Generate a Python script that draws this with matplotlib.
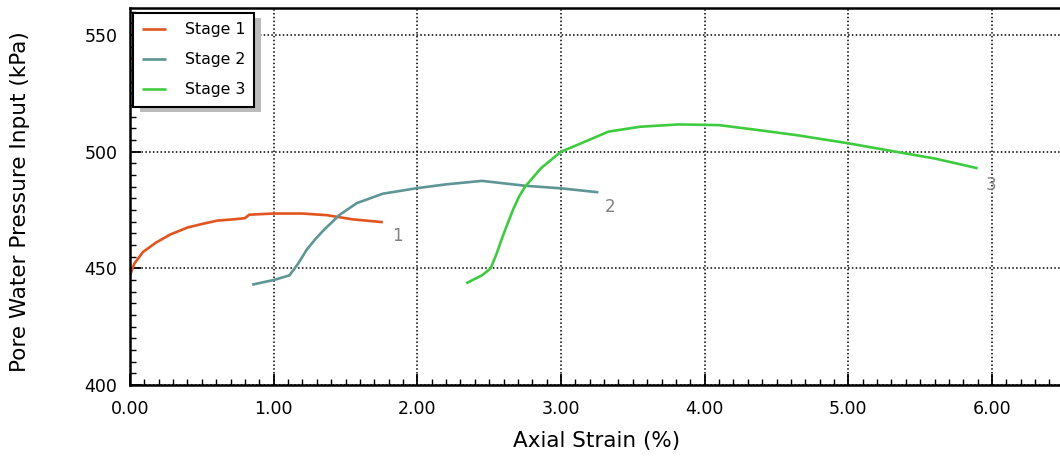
import matplotlib
matplotlib.use("Agg")
import matplotlib.pyplot as plt
from matplotlib.ticker import MultipleLocator, FormatStrFormatter
import matplotlib.patheffects as pe

# ---- data ----
stage1_x = [0.00, 0.03, 0.09, 0.18, 0.28, 0.40, 0.50, 0.61, 0.72, 0.80, 0.83, 1.00, 1.20, 1.37, 1.55, 1.76]
stage1_y = [447.0, 452.0, 457.0, 461.0, 464.5, 467.5, 469.0, 470.5, 471.0, 471.5, 473.0, 473.5, 473.5, 472.8, 471.0, 469.8]

stage2_x = [0.85, 1.00, 1.11, 1.17, 1.23, 1.29, 1.35, 1.46, 1.58, 1.76, 2.00, 2.20, 2.45, 2.75, 3.00, 3.26]
stage2_y = [443.0, 445.0, 447.0, 452.0, 458.0, 462.5, 466.5, 473.0, 478.0, 482.0, 484.4, 486.0, 487.5, 485.4, 484.3, 482.6]

stage3_x = [2.34, 2.45, 2.51, 2.55, 2.59, 2.63, 2.67, 2.71, 2.75, 2.86, 3.00, 3.14, 3.33, 3.55, 3.82,
            4.10, 4.37, 4.64, 5.00, 5.33, 5.60, 5.90]
stage3_y = [443.6, 447.0, 450.0, 456.0, 463.0, 469.5, 475.7, 481.0, 485.0, 492.9, 500.0, 503.6, 508.6, 510.7, 511.7,
            511.4, 509.3, 507.1, 503.6, 500.0, 497.1, 492.9]

series_names = ["Stage 1", "Stage 2", "Stage 3"]
end_labels = ["1", "2", "3"]
x_ticks = [0, 1, 2, 3, 4, 5, 6]
y_ticks = [400, 450, 500, 550]

colors = ["#E2541E", "#5E9595", "#3FCB3F"]

plt.rcParams['font.family'] = ['DejaVu Sans']

fig = plt.figure(figsize=(10.6, 4.66), dpi=100)
ax = fig.add_axes([130 / 1060, (466 - 385) / 466, 930 / 1060, (385 - 8) / 466])

series = [(stage1_x, stage1_y), (stage2_x, stage2_y), (stage3_x, stage3_y)]
for (xs, ys), name, c in zip(series, series_names, colors):
    ax.plot(xs, ys, color=c, lw=1.9, label=name, solid_capstyle='butt')

# end-of-curve labels
label_offsets = [(0.10, -6.0), (0.08, -6.3), (0.09, -7.2)]
for (xs, ys), lab, (dx, dy) in zip(series, end_labels, label_offsets):
    ax.text(xs[-1] + dx, ys[-1] + dy, lab, color="#808080", fontsize=12,
            ha='center', va='center')

ax.set_xlim(0, 930 / 143.67)
ax.set_ylim(400, 561.6)
ax.set_xticks(x_ticks)
ax.set_yticks(y_ticks)
ax.xaxis.set_major_formatter(FormatStrFormatter('%.2f'))
ax.xaxis.set_minor_locator(MultipleLocator(0.1))
ax.yaxis.set_minor_locator(MultipleLocator(5))

ax.tick_params(which='major', direction='in', length=8, width=1.3, labelsize=12.5, colors='black')
ax.tick_params(which='minor', direction='in', length=4, width=1.0)
ax.tick_params(axis='x', which='major', pad=11)
ax.tick_params(axis='y', which='major', pad=9)

ax.grid(True, which='major', color='black', linestyle=(0, (1.0, 1.5)), linewidth=1.1)

for s in ['left', 'bottom', 'top']:
    ax.spines[s].set_linewidth(1.8)
ax.spines['right'].set_visible(False)

ax.set_xlabel("Axial Strain (%)", fontsize=15.5, va='center', ha='center')
ax.xaxis.set_label_coords((597 - 130) / 930, (385 - 441) / 377)
ax.set_ylabel("Pore Water Pressure Input (kPa)", fontsize=15.5, va='center', ha='center')
ax.yaxis.set_label_coords((20 - 130) / 930, (385 - 202) / 377)

leg = ax.legend(loc='upper left', bbox_to_anchor=(0.003, 0.987), borderaxespad=0,
                fontsize=11.3, frameon=True, fancybox=False, framealpha=1.0, facecolor='white',
                edgecolor='black', handlelength=1.5, handletextpad=1.2, borderpad=0.6,
                labelspacing=0.95)
frame = leg.get_frame()
frame.set_linewidth(1.5)
frame.set_path_effects([pe.SimplePatchShadow(offset=(5, -4), shadow_rgbFace='#BBBBBB', alpha=1.0), pe.Normal()])

fig.savefig("out.png", dpi=100)
